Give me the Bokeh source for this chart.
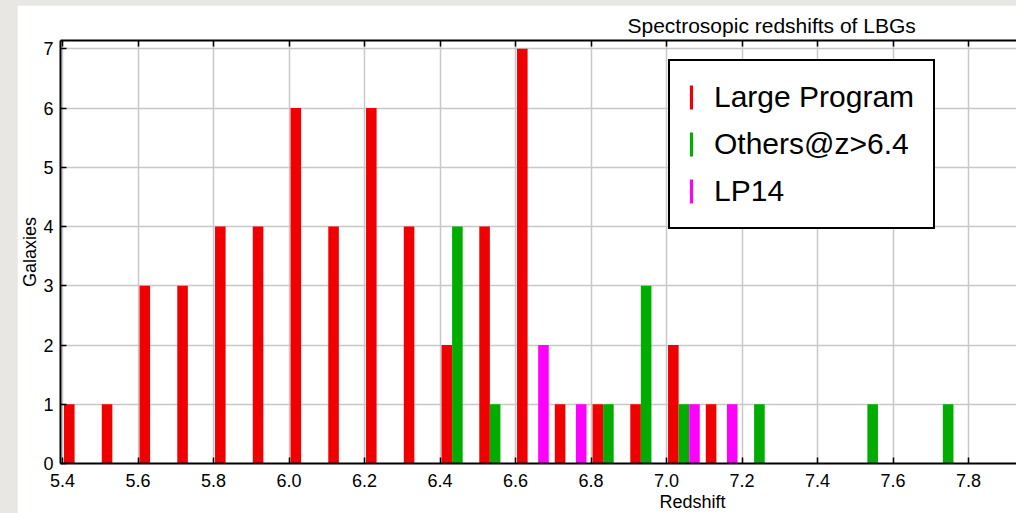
from bokeh.plotting import figure
from bokeh.layouts import column
from bokeh.models import (Range1d, LinearAxis, FixedTicker, PrintfTickFormatter,
                          Legend, LegendItem, Title, ColumnDataSource)
from bokeh.embed import file_html
from bokeh.resources import INLINE

# ---- data (bin left edges, counts) ----
lp_bins = [5.4, 5.5, 5.6, 5.7, 5.8, 5.9, 6.0, 6.1, 6.2, 6.3, 6.4, 6.5, 6.6, 6.7, 6.8, 6.9, 7.0, 7.1]
lp_counts = [1, 1, 3, 3, 4, 4, 6, 4, 6, 4, 2, 4, 7, 1, 1, 1, 2, 1]

others_bins = [6.4, 6.5, 6.8, 6.9, 7.0, 7.2, 7.5, 7.7]
others_counts = [4, 1, 1, 3, 1, 1, 1, 1]

lp14_bins = [6.6, 6.7, 7.0, 7.1]
lp14_counts = [2, 1, 1, 1]

x_ticks = [5.4, 5.6, 5.8, 6.0, 6.2, 6.4, 6.6, 6.8, 7.0, 7.2, 7.4, 7.6, 7.8]
y_ticks = [0, 1, 2, 3, 4, 5, 6, 7]

series_names = ["Large Program", "Others@z>6.4", "LP14"]
series_colors = ["#f00000", "#00ad00", "#ff00ff"]

# layout of the grouped bars inside each 0.1 bin
BAR_W = 0.028
OFFSETS = [0.018, 0.046, 0.074]

FONT = "Liberation Sans"

p = figure(width=999, height=508, margin=(5, 0, 0, 17),
           x_range=Range1d(5.3947, 7.927), y_range=Range1d(0, 7.14),
           output_backend="svg", toolbar_location=None,
           min_border_left=43, min_border_right=0,
           min_border_top=35, min_border_bottom=50)

p.outline_line_color = None
p.background_fill_color = "white"
p.border_fill_color = "white"

renderers = []
for bins, counts, off, col in zip([lp_bins, others_bins, lp14_bins],
                                  [lp_counts, others_counts, lp14_counts],
                                  OFFSETS, series_colors):
    src = ColumnDataSource(dict(x=[b + off for b in bins], top=counts))
    r = p.vbar(x="x", top="top", bottom=0, width=BAR_W, source=src,
               fill_color=col, line_color=None)
    renderers.append(r)

# axes
xa = p.xaxis[0]
xa.ticker = FixedTicker(ticks=x_ticks)
xa.formatter = PrintfTickFormatter(format="%.1f")
ya = p.yaxis[0]
ya.ticker = FixedTicker(ticks=y_ticks)
ya.axis_label = "Galaxies"
ya.axis_label_text_font = FONT
ya.axis_label_text_font_size = "18px"
ya.axis_label_text_font_style = "normal"
ya.axis_label_text_color = "black"
ya.axis_label_standoff = 0

for ax in (xa, ya):
    ax.axis_line_color = "black"
    ax.axis_line_width = 2
    ax.major_tick_line_color = "black"
    ax.major_tick_line_width = 1.5
    ax.major_tick_in = 6
    ax.major_tick_out = 0
    ax.minor_tick_line_color = None
    ax.major_label_text_font = FONT
    ax.major_label_text_font_size = "18px"
    ax.major_label_text_color = "black"
xa.major_label_standoff = 10
ya.major_label_standoff = 7

top = LinearAxis(ticker=FixedTicker(ticks=x_ticks))
top.axis_line_color = "black"
top.axis_line_width = 2
top.major_tick_line_color = "black"
top.major_tick_line_width = 1.5
top.major_tick_in = 6
top.major_tick_out = 0
top.minor_tick_line_color = None
top.major_label_text_color = None
top.major_label_text_font_size = "0px"
top.major_label_standoff = 0
p.add_layout(top, "above")

# grid
p.xgrid.ticker = FixedTicker(ticks=x_ticks)
p.ygrid.ticker = FixedTicker(ticks=y_ticks)
for g in (p.xgrid, p.ygrid):
    g.grid_line_color = "#c8c8c8"
    g.grid_line_width = 1.5

# legend
legend = Legend(items=[LegendItem(label=n, renderers=[r]) for n, r in zip(series_names, renderers)],
                location=(608, 234), margin=0)
legend.border_line_color = "black"
legend.border_line_alpha = 1.0
legend.border_line_width = 2
legend.background_fill_color = "white"
legend.background_fill_alpha = 1.0
legend.padding = 19
legend.spacing = 13
legend.glyph_width = 4
legend.glyph_height = 30
legend.label_standoff = 21
legend.label_text_font = FONT
legend.label_text_font_size = "30px"
legend.label_text_color = "black"
legend.label_height = 30
p.add_layout(legend)

# title (above) and x label (below) as titles with offsets
p.title.text = "Spectrosopic redshifts of LBGs"
p.title.text_font = FONT
p.title.text_font_size = "21px"
p.title.text_font_style = "normal"
p.title.text_color = "black"
p.title.align = "left"
p.title.vertical_align = "top"
p.title.offset = 567
p.title.standoff = 4

xlab = Title(text="Redshift", text_font=FONT, text_font_size="18px",
             text_font_style="normal", text_color="black",
             align="left", offset=599, standoff=0)
p.add_layout(xlab, "below")

page = column(p, styles={"background-color": "#e9e7e3"})

open("out.html", "w").write(file_html(page, INLINE))
